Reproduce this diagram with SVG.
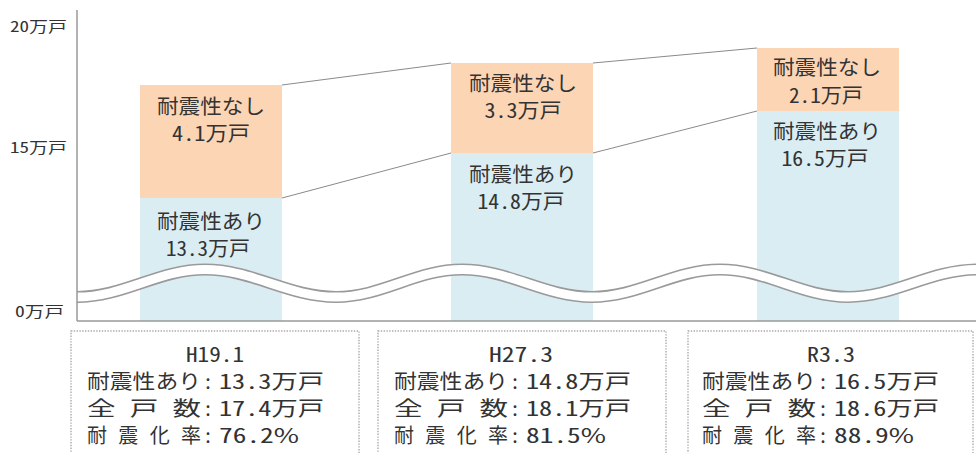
<svg xmlns="http://www.w3.org/2000/svg" width="976" height="453" viewBox="0 0 976 453">
<defs>
<style>
text{font-family:"Noto Sans CJK JP","Noto Sans",sans-serif;fill:#333;font-feature-settings:"hwid" 1;}
.ax{font-size:15px;}
.bl{font-size:20px;text-anchor:middle;}
.bx{font-size:20px;}
.mid{text-anchor:middle;}
.pc{font-feature-settings:normal;}
.ng{fill:#fcd5b5;}
.ar{fill:#daedf3;}
.conn{stroke:#8a8a8a;stroke-width:1;fill:none;}
.axis{stroke:#999;stroke-width:1.5;fill:none;}
.box{fill:none;stroke:#aaa;stroke-width:1.4;stroke-dasharray:1.4 1.4;}
</style>
</defs>
<rect width="976" height="453" fill="#fff"/>

<g id="bar-h19">
<rect class="ng" x="140" y="85" width="142" height="113"/>
<rect class="ar" x="140" y="198" width="142" height="123"/>
</g>
<g id="bar-h27">
<rect class="ng" x="451" y="63" width="142" height="90"/>
<rect class="ar" x="451" y="153" width="142" height="168"/>
</g>
<g id="bar-r3">
<rect class="ng" x="757" y="48" width="142" height="63"/>
<rect class="ar" x="757" y="111" width="142" height="210"/>
</g>

<g id="connectors">
<line class="conn" x1="282" y1="85" x2="451" y2="63"/>
<line class="conn" x1="282" y1="198" x2="451" y2="153"/>
<line class="conn" x1="593" y1="63" x2="757" y2="48"/>
<line class="conn" x1="593" y1="153" x2="757" y2="111"/>
</g>

<g id="wave">
<path d="M77,297 C123.6,297 158.4,269.5 205,269.5 C252.7,269.5 288.3,297 336,297 C381.9,297 416.1,269.5 462,269.5 C509.3,269.5 544.7,297 592,297 C638.6,297 673.4,269.5 720,269.5 C766.6,269.5 801.4,297 848,297 C894.6,297 929.4,269.5 978,269.5" fill="none" stroke="#9a9a9a" stroke-width="12"/>
<path d="M77,297 C123.6,297 158.4,269.5 205,269.5 C252.7,269.5 288.3,297 336,297 C381.9,297 416.1,269.5 462,269.5 C509.3,269.5 544.7,297 592,297 C638.6,297 673.4,269.5 720,269.5 C766.6,269.5 801.4,297 848,297 C894.6,297 929.4,269.5 978,269.5" fill="none" stroke="#fff" stroke-width="8.8"/>
</g>

<g id="axes">
<line class="axis" x1="77" y1="10" x2="77" y2="321"/>
<line class="axis" x1="77" y1="321" x2="976" y2="321"/>
<text class="ax" x="10" y="32" textLength="57" lengthAdjust="spacingAndGlyphs">20万戸</text>
<text class="ax" x="10" y="153" textLength="57" lengthAdjust="spacingAndGlyphs">15万戸</text>
<text class="ax" x="15" y="317" textLength="49" lengthAdjust="spacingAndGlyphs">0万戸</text>
</g>

<g id="labels-h19">
<text class="bl" x="211" y="114" textLength="108" lengthAdjust="spacingAndGlyphs">耐震性なし</text>
<text class="bl" x="211" y="140.5" textLength="78" lengthAdjust="spacingAndGlyphs">4.1万戸</text>
<text class="bl" x="211" y="228.5" textLength="108" lengthAdjust="spacingAndGlyphs">耐震性あり</text>
<text class="bl" x="208" y="255.5" textLength="84" lengthAdjust="spacingAndGlyphs">13.3万戸</text>
</g>
<g id="labels-h27">
<text class="bl" x="523" y="91" textLength="108" lengthAdjust="spacingAndGlyphs">耐震性なし</text>
<text class="bl" x="523" y="118" textLength="77" lengthAdjust="spacingAndGlyphs">3.3万戸</text>
<text class="bl" x="523" y="181.5" textLength="108" lengthAdjust="spacingAndGlyphs">耐震性あり</text>
<text class="bl" x="521" y="209" textLength="87" lengthAdjust="spacingAndGlyphs">14.8万戸</text>
</g>
<g id="labels-r3">
<text class="bl" x="827" y="74.5" textLength="108" lengthAdjust="spacingAndGlyphs">耐震性なし</text>
<text class="bl" x="826" y="103" textLength="74" lengthAdjust="spacingAndGlyphs">2.1万戸</text>
<text class="bl" x="827" y="138.5" textLength="108" lengthAdjust="spacingAndGlyphs">耐震性あり</text>
<text class="bl" x="825" y="166" textLength="87" lengthAdjust="spacingAndGlyphs">16.5万戸</text>
</g>

<g id="info-h19">
<rect class="box" x="71" y="331" width="288" height="135"/>
<text class="bx mid" x="215" y="361.5" textLength="58" lengthAdjust="spacingAndGlyphs">H19.1</text>
<text class="bx" x="87" y="389" textLength="114" lengthAdjust="spacingAndGlyphs">耐震性あり</text>
<text class="bx mid" x="208" y="389">：</text>
<text class="bx" x="219" y="389" textLength="105" lengthAdjust="spacingAndGlyphs">13.3万戸</text>
<text class="bx" x="87" y="416" textLength="114" lengthAdjust="spacingAndGlyphs">全　戸　数</text>
<text class="bx mid" x="208" y="416">：</text>
<text class="bx" x="219" y="416" textLength="105" lengthAdjust="spacingAndGlyphs">17.4万戸</text>
<text class="bx" x="87" y="443" textLength="114" lengthAdjust="spacing">耐震化率</text>
<text class="bx mid" x="208" y="443">：</text>
<text class="bx" x="219" y="443" textLength="80" lengthAdjust="spacingAndGlyphs">76.2<tspan class="pc">%</tspan></text>
</g>
<g id="info-h27">
<rect class="box" x="378" y="331" width="288" height="135"/>
<text class="bx mid" x="521" y="361.5" textLength="64" lengthAdjust="spacingAndGlyphs">H27.3</text>
<text class="bx" x="394" y="389" textLength="114" lengthAdjust="spacingAndGlyphs">耐震性あり</text>
<text class="bx mid" x="515" y="389">：</text>
<text class="bx" x="526" y="389" textLength="105" lengthAdjust="spacingAndGlyphs">14.8万戸</text>
<text class="bx" x="394" y="416" textLength="114" lengthAdjust="spacingAndGlyphs">全　戸　数</text>
<text class="bx mid" x="515" y="416">：</text>
<text class="bx" x="526" y="416" textLength="105" lengthAdjust="spacingAndGlyphs">18.1万戸</text>
<text class="bx" x="394" y="443" textLength="114" lengthAdjust="spacing">耐震化率</text>
<text class="bx mid" x="515" y="443">：</text>
<text class="bx" x="526" y="443" textLength="80" lengthAdjust="spacingAndGlyphs">81.5<tspan class="pc">%</tspan></text>
</g>
<g id="info-r3">
<rect class="box" x="688" y="331" width="285" height="135"/>
<text class="bx mid" x="831" y="361.5" textLength="48" lengthAdjust="spacingAndGlyphs">R3.3</text>
<text class="bx" x="702" y="389" textLength="114" lengthAdjust="spacingAndGlyphs">耐震性あり</text>
<text class="bx mid" x="823" y="389">：</text>
<text class="bx" x="834" y="389" textLength="105" lengthAdjust="spacingAndGlyphs">16.5万戸</text>
<text class="bx" x="702" y="416" textLength="114" lengthAdjust="spacingAndGlyphs">全　戸　数</text>
<text class="bx mid" x="823" y="416">：</text>
<text class="bx" x="834" y="416" textLength="105" lengthAdjust="spacingAndGlyphs">18.6万戸</text>
<text class="bx" x="702" y="443" textLength="114" lengthAdjust="spacing">耐震化率</text>
<text class="bx mid" x="823" y="443">：</text>
<text class="bx" x="834" y="443" textLength="80" lengthAdjust="spacingAndGlyphs">88.9<tspan class="pc">%</tspan></text>
</g>
</svg>
